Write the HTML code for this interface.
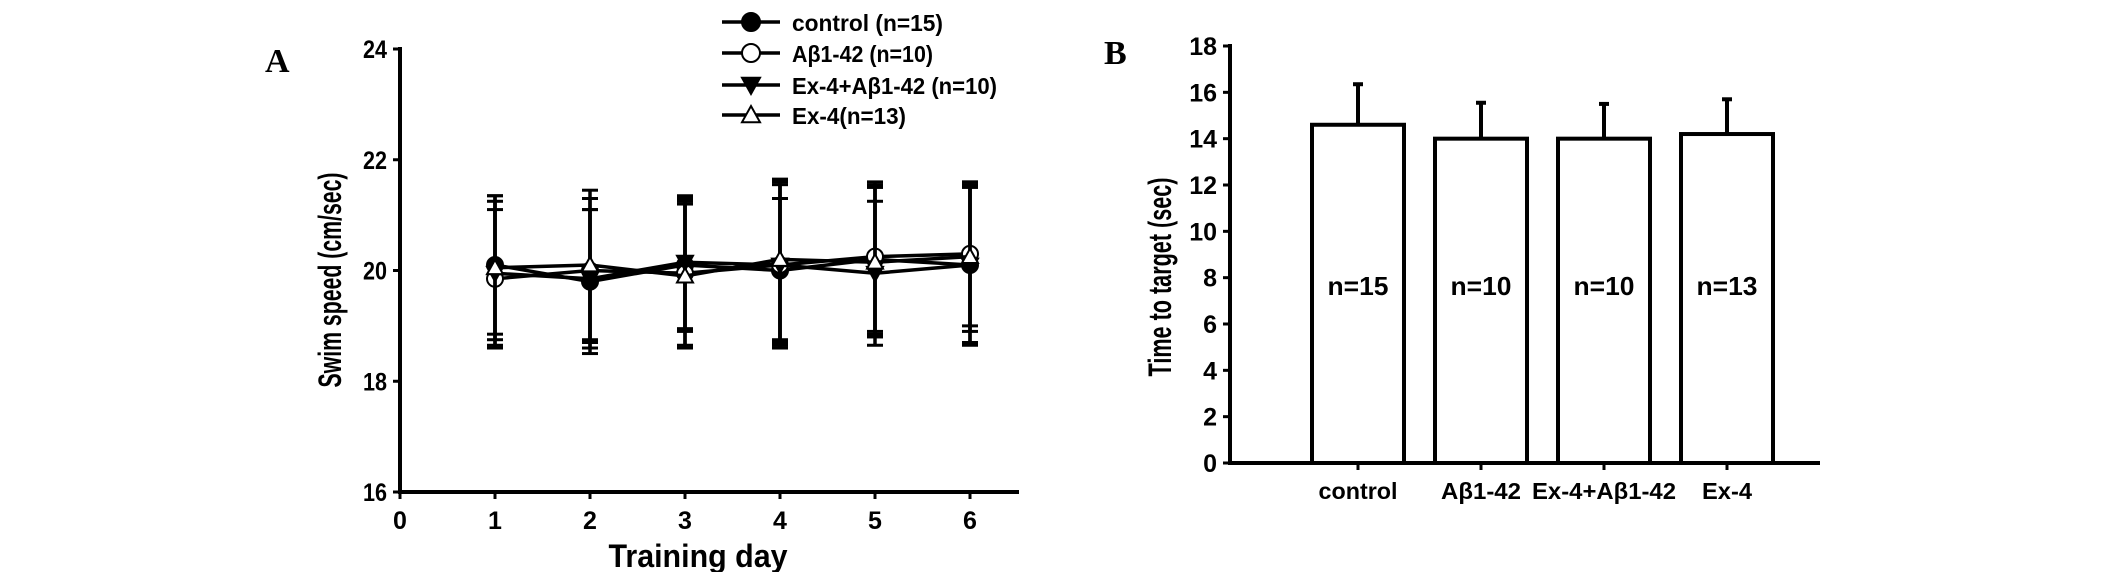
<!DOCTYPE html>
<html><head><meta charset="utf-8"><style>
html,body{margin:0;padding:0;background:#fff;}
svg{display:block;}
text{font-family:"Liberation Sans",Arial,sans-serif;font-weight:bold;fill:#000;}
</style></head><body>
<svg id="fig" width="2126" height="572" viewBox="0 0 2126 572" xmlns="http://www.w3.org/2000/svg">
<g id="chartA"></g>
<g id="chartB"></g>
</svg>
<script>
// ---- Panel A data ----
const days = [1, 2, 3, 4, 5, 6];
const xTicksA = [0, 1, 2, 3, 4, 5, 6];
const yTicksA = [16, 18, 20, 22, 24];
const controlMean = [20.1, 19.8, 20.1, 20.0, 20.2, 20.1];
const controlErr = [1.25, 1.3, 1.2, 1.3, 1.35, 1.4];
const abetaMean = [19.85, 20.0, 19.95, 20.1, 20.25, 20.3];
const abetaErr = [1.25, 1.3, 1.3, 1.5, 1.35, 1.3];
const exAbetaMean = [19.95, 19.85, 20.15, 20.1, 19.95, 20.1];
const exAbetaErr = [1.3, 1.25, 1.2, 1.45, 1.3, 1.45];
const ex4Mean = [20.05, 20.1, 19.9, 20.2, 20.15, 20.25];
const ex4Err = [1.3, 1.35, 1.3, 1.45, 1.35, 1.35];
const seriesNames = ["control (n=15)", "Aβ1-42 (n=10)", "Ex-4+Aβ1-42 (n=10)", "Ex-4(n=13)"];
// ---- Panel B data ----
const groups = ["control", "Aβ1-42", "Ex-4+Aβ1-42", "Ex-4"];
const groupN = ["n=15", "n=10", "n=10", "n=13"];
const timeMean = [14.6, 14.0, 14.0, 14.2];
const timeErr = [1.75, 1.55, 1.5, 1.5];
const yTicksB = [0, 2, 4, 6, 8, 10, 12, 14, 16, 18];

const NS = "http://www.w3.org/2000/svg";
function mk(parent, tag, attrs, txt) {
  const e = document.createElementNS(NS, tag);
  for (const k in attrs) e.setAttribute(k, attrs[k]);
  if (txt !== undefined) e.textContent = txt;
  parent.appendChild(e);
  return e;
}
function condensed(el, len) {
  el.setAttribute('textLength', len);
  el.setAttribute('lengthAdjust', 'spacingAndGlyphs');
}

// ===== Panel A =====
const A = document.getElementById('chartA');
const ax = v => 400 + v * 95;
const ay = v => 492 - (v - 16) * (443 / 8);
let t = mk(A, 'text', {x: 265, y: 72, 'font-size': 34, style: 'font-family:"Liberation Serif",serif'}, 'A');


let l = mk(A, 'line', {x1: 400, y1: 47, x2: 400, y2: 494, stroke: '#000', 'stroke-width': 4});


l = mk(A, 'line', {x1: 398, y1: 492, x2: 1019, y2: 492, stroke: '#000', 'stroke-width': 4});


yTicksA.forEach(v => {
  mk(A, 'line', {x1: 393, y1: ay(v), x2: 400, y2: ay(v), stroke: '#000', 'stroke-width': 3});
  const tt = mk(A, 'text', {x: 387, y: ay(v) + 9, 'font-size': 25, 'text-anchor': 'end'}, String(v));
  condensed(tt, 24);
  
  
});
xTicksA.forEach(v => {
  mk(A, 'line', {x1: ax(v), y1: 492, x2: ax(v), y2: 499, stroke: '#000', 'stroke-width': 3});
  const tt = mk(A, 'text', {x: ax(v), y: 529, 'font-size': 25, 'text-anchor': 'middle'}, String(v));
  
  
});
t = mk(A, 'text', {x: 698, y: 567, 'font-size': 32, 'text-anchor': 'middle'}, 'Training day');
condensed(t, 179);


t = mk(A, 'text', {x: 0, y: 0, 'font-size': 32, 'text-anchor': 'middle', transform: 'translate(341,280) rotate(-90)'}, 'Swim speed (cm/sec)');
condensed(t, 215);



const means = [controlMean, abetaMean, exAbetaMean, ex4Mean];
const errs = [controlErr, abetaErr, exAbetaErr, ex4Err];
const markers = ['circleFill', 'circleOpen', 'triDown', 'triUp'];
function marker(g, kind, x, y, s) {
  if (kind === 'circleFill') return mk(g, 'circle', {cx: x, cy: y, r: s, fill: '#000', stroke: '#000', 'stroke-width': 2});
  if (kind === 'circleOpen') return mk(g, 'circle', {cx: x, cy: y, r: s, fill: '#fff', stroke: '#000', 'stroke-width': 2});
  if (kind === 'triDown') return mk(g, 'polygon', {points: `${x-s},${y-s*0.8} ${x+s},${y-s*0.8} ${x},${y+s}`, fill: '#000', stroke: '#000', 'stroke-width': 2});
  return mk(g, 'polygon', {points: `${x-s},${y+s*0.8} ${x+s},${y+s*0.8} ${x},${y-s}`, fill: '#fff', stroke: '#000', 'stroke-width': 2});
}
means.forEach((m, si) => {
  const g = mk(A, 'g', {});
  
  
  days.forEach((d, i) => {
    const x = ax(d), y1 = ay(m[i] + errs[si][i]), y2 = ay(m[i] - errs[si][i]);
    mk(g, 'line', {x1: x, y1: y1, x2: x, y2: y2, stroke: '#000', 'stroke-width': 3.5});
    mk(g, 'line', {x1: x - 8, y1: y1, x2: x + 8, y2: y1, stroke: '#000', 'stroke-width': 3});
    mk(g, 'line', {x1: x - 8, y1: y2, x2: x + 8, y2: y2, stroke: '#000', 'stroke-width': 3});
  });
  const pts = days.map((d, i) => ax(d) + ',' + ay(m[i])).join(' ');
  const pl = mk(g, 'polyline', {points: pts, fill: 'none', stroke: '#000', 'stroke-width': 3.5});
  
  
  days.forEach((d, i) => {
    const mm = marker(g, markers[si], ax(d), ay(m[i]), 8);
    
    
  });
});
// legend
const legY = [22, 53, 85, 115];
const legW = [151, 141, 205, 114];
seriesNames.forEach((nm, i) => {
  const g = mk(A, 'g', {});
  
  
  mk(g, 'line', {x1: 722, y1: legY[i], x2: 780, y2: legY[i], stroke: '#000', 'stroke-width': 3.5});
  marker(g, markers[i], 751, legY[i], 9);
  const tt = mk(g, 'text', {x: 792, y: legY[i] + 9, 'font-size': 23}, nm);
  condensed(tt, legW[i]);
});

// ===== Panel B =====
const B = document.getElementById('chartB');
const by = v => 463 - v * (417 / 18);
const bx = i => 1358 + i * 123;
t = mk(B, 'text', {x: 1104, y: 64, 'font-size': 34, style: 'font-family:"Liberation Serif",serif'}, 'B');


yTicksB.forEach(v => {
  mk(B, 'line', {x1: 1223, y1: by(v), x2: 1230, y2: by(v), stroke: '#000', 'stroke-width': 3});
  const tt = mk(B, 'text', {x: 1217, y: by(v) + 9, 'font-size': 25, 'text-anchor': 'end'}, String(v));
  
  
});
t = mk(B, 'text', {x: 0, y: 0, 'font-size': 32, 'text-anchor': 'middle', transform: 'translate(1171,277) rotate(-90)'}, 'Time to target (sec)');
condensed(t, 199);


const catW = [79, 80, 144, 50];
groups.forEach((gname, i) => {
  const g = mk(B, 'g', {});
  
  
  const x = bx(i), top = by(timeMean[i]), et = by(timeMean[i] + timeErr[i]);
  mk(g, 'line', {x1: x, y1: top, x2: x, y2: et, stroke: '#000', 'stroke-width': 4});
  mk(g, 'line', {x1: x - 5, y1: et, x2: x + 5, y2: et, stroke: '#000', 'stroke-width': 4});
  mk(g, 'rect', {x: x - 46, y: top, width: 92, height: 463 - top, fill: '#fff', stroke: '#000', 'stroke-width': 4});
  const nt = mk(g, 'text', {x: x, y: 295, 'font-size': 26, 'text-anchor': 'middle'}, groupN[i]);
  condensed(nt, 61);
  mk(g, 'line', {x1: x, y1: 463, x2: x, y2: 470, stroke: '#000', 'stroke-width': 3});
  const lab = mk(B, 'text', {x: x, y: 499, 'font-size': 23, 'text-anchor': 'middle'}, gname);
  condensed(lab, catW[i]);
  
  
});
l = mk(B, 'line', {x1: 1230, y1: 44, x2: 1230, y2: 465, stroke: '#000', 'stroke-width': 4});


l = mk(B, 'line', {x1: 1228, y1: 463, x2: 1820, y2: 463, stroke: '#000', 'stroke-width': 4});


</script>
</body></html>
